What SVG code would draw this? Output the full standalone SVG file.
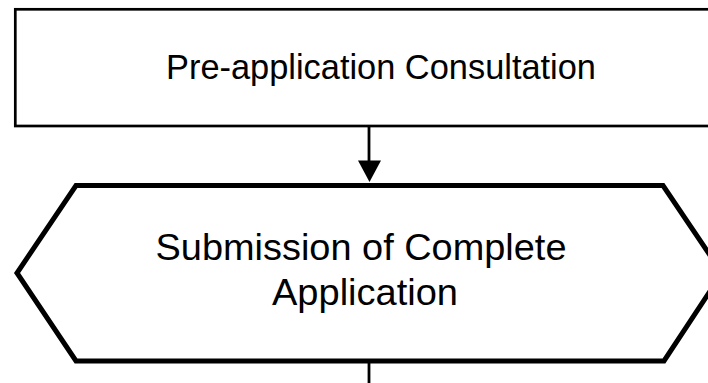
<svg xmlns="http://www.w3.org/2000/svg" width="708" height="383" viewBox="0 0 708 383">
<style>
.box{fill:#fff;stroke:#000;stroke-width:2.7}
.hex{fill:#fff;stroke:#000;stroke-width:5;stroke-linejoin:miter}
.lbl{font-family:"Liberation Sans",Arial,sans-serif;fill:#000;text-anchor:middle}
.conn{stroke:#000;stroke-width:2.8;fill:none}
</style>
<rect width="708" height="383" fill="#fff"/>
<g id="node-preapp">
<rect class="box" x="15.3" y="9.3" width="732" height="116.7"/>
<text class="lbl" x="381" y="79.3" font-size="35" textLength="430" lengthAdjust="spacingAndGlyphs">Pre-application Consultation</text>
</g>
<g id="node-submission">
<polygon class="hex" points="76,185.5 663,185.5 722,273 664,361 76,361 17,273"/>
<text class="lbl" x="361" y="260" font-size="37" textLength="411" lengthAdjust="spacingAndGlyphs">Submission of Complete</text>
<text class="lbl" x="365" y="305" font-size="37" textLength="186" lengthAdjust="spacingAndGlyphs">Application</text>
</g>
<g id="connectors">
<line class="conn" x1="369" y1="127" x2="369" y2="162"/>
<polygon points="358,160.5 381,160.5 369.5,182" fill="#000"/>
<line class="conn" x1="369" y1="363" x2="369" y2="383"/>
</g>
</svg>
